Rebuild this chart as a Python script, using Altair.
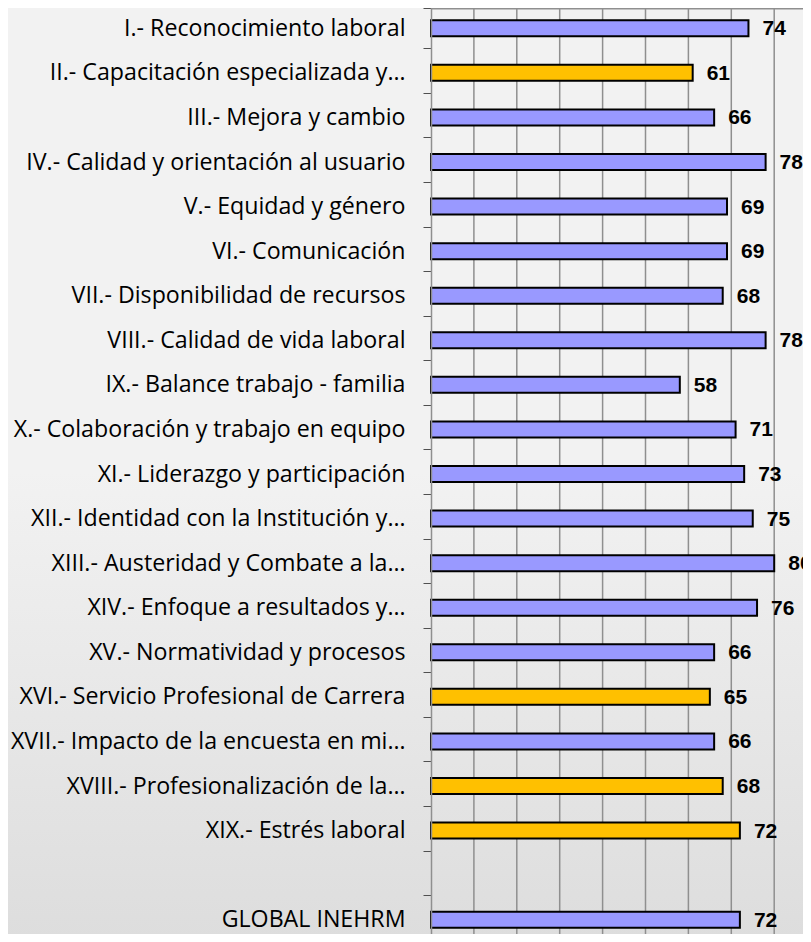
import altair as alt
import pandas as pd

categories = [
    "I.- Reconocimiento laboral",
    "II.- Capacitación especializada y…",
    "III.- Mejora y cambio",
    "IV.- Calidad y orientación al usuario",
    "V.- Equidad y género",
    "VI.- Comunicación",
    "VII.- Disponibilidad de recursos",
    "VIII.- Calidad de vida laboral",
    "IX.- Balance trabajo - familia\u00a0",
    "X.- Colaboración y trabajo en equipo",
    "XI.- Liderazgo y participación",
    "XII.- Identidad con la Institución y…",
    "XIII.- Austeridad y Combate a la…",
    "XIV.- Enfoque a resultados y…",
    "XV.- Normatividad y procesos",
    "XVI.- Servicio Profesional de Carrera\u00a0",
    "XVII.- Impacto de la encuesta en mi…",
    "XVIII.- Profesionalización de la…",
    "XIX.- Estrés laboral",
    " ",
    "GLOBAL INEHRM",
]
values = [74, 61, 66, 78, 69, 69, 68, 78, 58, 71, 73, 75, 80, 76, 66, 65, 66, 68, 72, None, 72]
groups = ["a", "b", "a", "a", "a", "a", "a", "a", "a", "a", "a", "a", "a", "a", "a",
          "b", "a", "b", "b", "a", "a"]
grid_values = [10, 20, 30, 40, 50, 60, 70, 80]

df = pd.DataFrame({"cat": categories, "val": values, "grp": groups})
bars_df = df.dropna()
grid_df = pd.DataFrame({"g": grid_values})
bg_df = pd.DataFrame({"k": [0]})

W, H = 372, 926
xscale = alt.Scale(domain=[0, W / 4.29], nice=False, zero=True)
yscale = alt.Scale(domain=categories, range=[-2, 934])

bg = alt.Chart(bg_df).mark_rect(
    fill=alt.Gradient(
        gradient="linear",
        stops=[
            alt.GradientStop(color="#f2f2f2", offset=0),
            alt.GradientStop(color="#f2f2f2", offset=0.5),
            alt.GradientStop(color="#dddddd", offset=1),
        ],
        x1=0, x2=0, y1=0, y2=1,
    )
).encode(
    x=alt.value(-430), x2=alt.value(W + 10), y=alt.value(-5), y2=alt.value(H + 5)
)

grid = alt.Chart(grid_df).mark_rule(color="#8f8f8f", strokeWidth=1.5).encode(
    x=alt.X("g:Q", scale=xscale, axis=None)
)

top_line = alt.Chart(bg_df).mark_rule(color="#8f8f8f", strokeWidth=1.5).encode(
    x=alt.value(0), x2=alt.value(W + 5), y=alt.value(0.75)
)

base = alt.Chart(bars_df)

bars = base.mark_bar(size=16, stroke="black", strokeWidth=2).encode(
    x=alt.X("val:Q", scale=xscale, axis=None),
    y=alt.Y(
        "cat:N",
        sort=categories,
        scale=yscale,
        axis=alt.Axis(
            title=None,
            tickBand="extent",
            tickSize=8,
            tickColor="#505050",
            tickWidth=1,
            domainColor="#8f8f8f",
            domainWidth=1.5,
            labelFont="Open Sans",
            labelFontSize=23.2,
            labelColor="#000000",
            labelPadding=18,
            labelLimit=0,
            grid=False,
            zindex=1,
        ),
    ),
    fill=alt.Color(
        "grp:N",
        scale=alt.Scale(domain=["a", "b"], range=["#9999ff", "#ffc000"]),
        legend=None,
    ),
)

labels = base.mark_text(
    align="left", baseline="middle", dx=14, dy=1,
    font="Liberation Sans", fontWeight="bold", fontSize=21, color="#000000",
).encode(
    x=alt.X("val:Q", scale=xscale, axis=None),
    y=alt.Y("cat:N", sort=categories, scale=yscale),
    text=alt.Text("val:Q", format=".0f"),
)

chart = alt.layer(bg, grid, top_line, bars, labels).properties(
    width=W,
    height=H,
    autosize=alt.AutoSizeParams(type="none"),
    padding={"left": 423, "top": 0, "right": 0, "bottom": 0},
).configure_view(stroke=None)

chart.save("out.html", embed_options={"renderer": "svg", "actions": False})
